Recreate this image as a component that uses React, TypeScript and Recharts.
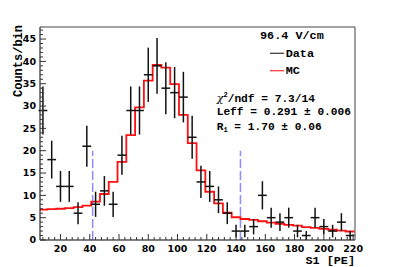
import React from 'react';
import { ComposedChart, XAxis, YAxis, Scatter, ErrorBar, Line, ReferenceLine } from 'recharts';

const binCenters = [8, 14, 20, 26, 32, 38, 44, 50, 56, 62, 68, 74, 80, 86, 92, 98, 104, 110, 116, 122, 128, 134, 140, 146, 152, 158, 164, 170, 176, 182, 188, 194, 200, 206, 212, 218];
const dataCounts = [29, 18, 12, 12, 6, 21, 8, 11, 8, 19, 29, 29, 37, 39, 34, 33, 32, 23, 13, 12, 9, 6, 2, 2, 3, 10, 5, 4, 5, 2, 1, 5, 3, 2, 4, 1];
const dataErrors = [5.39, 4.24, 3.46, 3.46, 2.45, 4.58, 2.83, 3.32, 2.83, 4.36, 5.39, 5.39, 6.08, 6.24, 5.83, 5.74, 5.66, 4.8, 3.61, 3.46, 3.0, 2.45, 1.41, 1.41, 1.73, 3.16, 2.24, 2.0, 2.24, 1.41, 1.0, 2.24, 1.73, 1.41, 2.0, 1.0];
const mcValues = [6.8, 6.9, 7.0, 7.15, 7.35, 7.7, 8.6, 10.3, 13.0, 17.5, 23.5, 29.7, 35.7, 39.2, 38.6, 34.9, 28.0, 21.7, 15.6, 10.8, 8.2, 6.1, 5.1, 4.7, 4.5, 4.2, 3.9, 3.6, 3.4, 3.2, 2.9, 2.7, 2.5, 2.3, 2.1, 1.9];
const binHalfWidth = 3;
const cutLines = [42, 143];
const cutHeight = 20;
const xTicks = [8, 12, 16, 20, 24, 28, 32, 36, 40, 44, 48, 52, 56, 60, 64, 68, 72, 76, 80, 84, 88, 92, 96, 100, 104, 108, 112, 116, 120, 124, 128, 132, 136, 140, 144, 148, 152, 156, 160, 164, 168, 172, 176, 180, 184, 188, 192, 196, 200, 204, 208, 212, 216, 220];
const yTicks = [0, 1, 2, 3, 4, 5, 6, 7, 8, 9, 10, 11, 12, 13, 14, 15, 16, 17, 18, 19, 20, 21, 22, 23, 24, 25, 26, 27, 28, 29, 30, 31, 32, 33, 34, 35, 36, 37, 38, 39, 40, 41, 42, 43, 44, 45, 46, 47];
const xDomain = [6, 221.3];
const yDomain = [0, 47.7];

const scatterData = binCenters.map((c, i) => ({ x: c, y: dataCounts[i], ey: dataErrors[i], ex: binHalfWidth }));
const mcData = [
  ...binCenters.map((c, i) => ({ x: c - binHalfWidth, v: mcValues[i] })),
  { x: binCenters[binCenters.length - 1] + binHalfWidth, v: mcValues[mcValues.length - 1] },
];

const W = 387;
const H = 259;
// plot area: left 32, right 347, top 19, bottom 232 (chart coords); axes take 1px each
const MARGIN = { top: 18, right: 39, bottom: 26, left: 31 };
const tickFont = '"DejaVu Sans", sans-serif';
const monoFont = '"Liberation Mono", "Courier New", monospace';

const YTick = (props: any) => {
  const { x, y, payload } = props;
  const v = payload.value;
  const major = v % 5 === 0;
  return (
    <g>
      <line x1={x} x2={x + (major ? 6 : 3)} y1={y} y2={y} stroke="#333" strokeWidth={1} />
      {major && (
        <text x={x - 4} y={y} dy={3.4} textAnchor="end" fontFamily={tickFont} fontWeight="bold" fontSize={9.5} fill="#000">
          {v}
        </text>
      )}
    </g>
  );
};

const XTick = (props: any) => {
  const { x, y, payload } = props;
  const v = payload.value;
  const major = v % 20 === 0;
  return (
    <g>
      <line x1={x} x2={x} y1={y} y2={y - (major ? 6 : 3)} stroke="#333" strokeWidth={1} />
      {major && (
        <text x={x} y={y} dy={11.8} textAnchor="middle" fontFamily={tickFont} fontWeight="bold" fontSize={9.5} fill="#000">
          {v}
        </text>
      )}
    </g>
  );
};

export default function App() {
  return (
    <div style={{ position: 'relative', width: W, height: H, background: '#fff' }}>
      <ComposedChart width={W} height={H} margin={MARGIN}>
        <XAxis
          dataKey="x"
          type="number"
          domain={xDomain}
          allowDataOverflow
          ticks={xTicks}
          interval={0}
          tickSize={0}
          tickMargin={0}
          height={1}
          tickLine={false}
          axisLine={{ stroke: '#000' }}
          tick={(p: any) => <XTick {...p} />}
        />
        <XAxis xAxisId="top" orientation="top" type="number" domain={xDomain} allowDataOverflow height={1} tick={false} tickLine={false} axisLine={{ stroke: '#444' }} />
        <YAxis
          type="number"
          domain={yDomain}
          allowDataOverflow
          ticks={yTicks}
          interval={0}
          tickSize={0}
          tickMargin={0}
          width={1}
          tickLine={false}
          axisLine={{ stroke: '#000' }}
          tick={(p: any) => <YTick {...p} />}
        />
        <YAxis yAxisId="right" orientation="right" type="number" domain={yDomain} allowDataOverflow width={1} tick={false} tickLine={false} axisLine={{ stroke: '#444' }} />
        {cutLines.map((cx) => (
          <ReferenceLine
            key={cx}
            segment={[{ x: cx, y: 0 }, { x: cx, y: cutHeight }]}
            stroke="#8c8cff"
            strokeWidth={1.5}
            strokeDasharray="9 3"
            ifOverflow="visible"
          />
        ))}
        <Line
          data={mcData}
          dataKey="v"
          type="stepAfter"
          stroke="#ff1010"
          strokeWidth={1.8}
          dot={false}
          isAnimationActive={false}
        />
        <Scatter data={scatterData} dataKey="y" shape={() => <g />} isAnimationActive={false}>
          <ErrorBar dataKey="ey" direction="y" width={0} stroke="#111" strokeWidth={1.5} isAnimationActive={false} />
          <ErrorBar dataKey="ex" direction="x" width={0} stroke="#111" strokeWidth={1.5} isAnimationActive={false} />
        </Scatter>
      </ComposedChart>
      <svg width={W} height={H} style={{ position: 'absolute', left: 0, top: 0, pointerEvents: 'none' }}>
        <text x={252} y={30.5} fontFamily={monoFont} fontWeight="bold" fontSize={11.8} fill="#000">96.4 V/cm</text>
        <line x1={262} x2={276} y1={45.3} y2={45.3} stroke="#444" strokeWidth={1.3} />
        <text x={277.7} y={48.7} fontFamily={monoFont} fontWeight="bold" fontSize={11.8} fill="#000">Data</text>
        <line x1={262} x2={276} y1={62.7} y2={62.7} stroke="#ff4040" strokeWidth={1.3} />
        <text x={277.7} y={66} fontFamily={monoFont} fontWeight="bold" fontSize={11.8} fill="#000">MC</text>
        <text x={208.7} y={93.7} fontFamily={monoFont} fontWeight="bold" fontSize={11.2} fill="#000">
          <tspan fontFamily='"DejaVu Serif", serif' fontWeight="normal" fontStyle="italic">χ</tspan>
          <tspan fontSize={7} dy={-4.5}>2</tspan>
          <tspan dy={4.5}>/ndf = 7.3/14</tspan>
        </text>
        <text x={208.7} y={107} fontFamily={monoFont} fontWeight="bold" fontSize={11.2} fill="#000">Leff = 0.291 ± 0.006</text>
        <text x={208.7} y={121.5} fontFamily={monoFont} fontWeight="bold" fontSize={11.2} fill="#000">
          <tspan>R</tspan>
          <tspan fontSize={7} dy={2}>1</tspan>
          <tspan dy={-2}> = 1.70 ± 0.06</tspan>
        </text>
        <g transform="translate(13.5 17) rotate(-90)">
          <text x={0} y={0} textAnchor="end" fontFamily={monoFont} fontWeight="bold" fontSize={12} fill="#000">
            Counts/bin
          </text>
        </g>
        <text x={347} y={256} textAnchor="end" fontFamily={monoFont} fontWeight="bold" fontSize={11.8} fill="#000">S1 [PE]</text>
      </svg>
    </div>
  );
}
